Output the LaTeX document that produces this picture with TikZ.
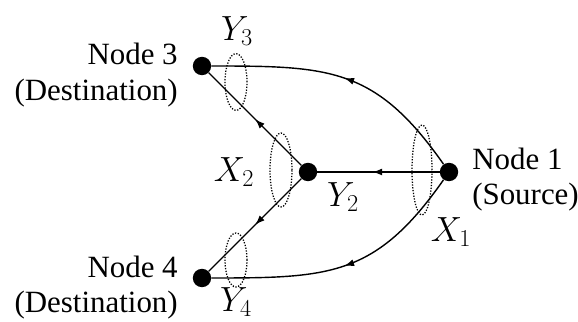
\documentclass[tikz,border=0pt]{standalone}
\usepackage{fontspec}
\setmainfont{Liberation Serif}
\usetikzlibrary{arrows.meta,decorations.markings,shapes.geometric}
\tikzset{
  station/.style={circle, fill=black, inner sep=0pt, minimum size=0.46cm},
  ring/.style={ellipse, draw, line width=0.9pt, dash pattern=on 0.9pt off 1.1pt, inner sep=0pt},
  caption/.style={inner sep=0pt, font=\fontsize{22}{25}\selectfont},
  signal/.style={inner sep=0pt, font=\fontsize{24}{26}\selectfont},
  link/.style={line width=1pt, postaction={decorate},
    decoration={markings, mark=at position #1 with {\arrow{Latex[length=7pt,width=5pt]}}}},
  link/.default=0.5
}
\begin{document}
\begin{tikzpicture}
\useasboundingbox (0,0) rectangle (14.45,8.05);
\node[station] (n3) at (5.05,6.4) {};
\node[station] (n2) at (7.7,3.75) {};
\node[station] (n1) at (11.225,3.75) {};
\node[station] (n4) at (5.05,1.1) {};
\draw[link] (n1) to[out=125, in=0, looseness=1.2] (n3);
\draw[link] (n1) to[out=-125, in=0, looseness=1.2] (n4);
\draw[link=0.55] (n1) -- (n2);
\draw[link] (n2) -- (n3);
\draw[link] (n2) -- (n4);
\node[ring, minimum width=0.55cm, minimum height=1.42cm] (ry3) at (5.9,6.0) {};
\node[ring, minimum width=0.55cm, minimum height=1.85cm] (rx2) at (7.025,3.8) {};
\node[ring, minimum width=0.5cm, minimum height=2.25cm] (rx1) at (10.55,3.8) {};
\node[ring, minimum width=0.55cm, minimum height=1.35cm] (ry4) at (5.9,1.55) {};
\node[caption, align=right, anchor=east] (l3) at (4.45,6.175) {Node 3\\(Destination)};
\node[caption, align=right, anchor=east] (l4) at (4.45,0.86) {Node 4\\(Destination)};
\node[caption, align=left, anchor=west] (l1) at (11.8,3.56) {Node 1\\(Source)};
\node[signal] (ty3) at (5.925,7.275) {$Y_3$};
\node[signal] (tx2) at (5.85,3.75) {$X_2$};
\node[signal] (ty2) at (8.575,3.125) {$Y_2$};
\node[signal] (tx1) at (11.275,2.25) {$X_1$};
\node[signal] (ty4) at (5.9,0.5) {$Y_4$};
\end{tikzpicture}
\end{document}
